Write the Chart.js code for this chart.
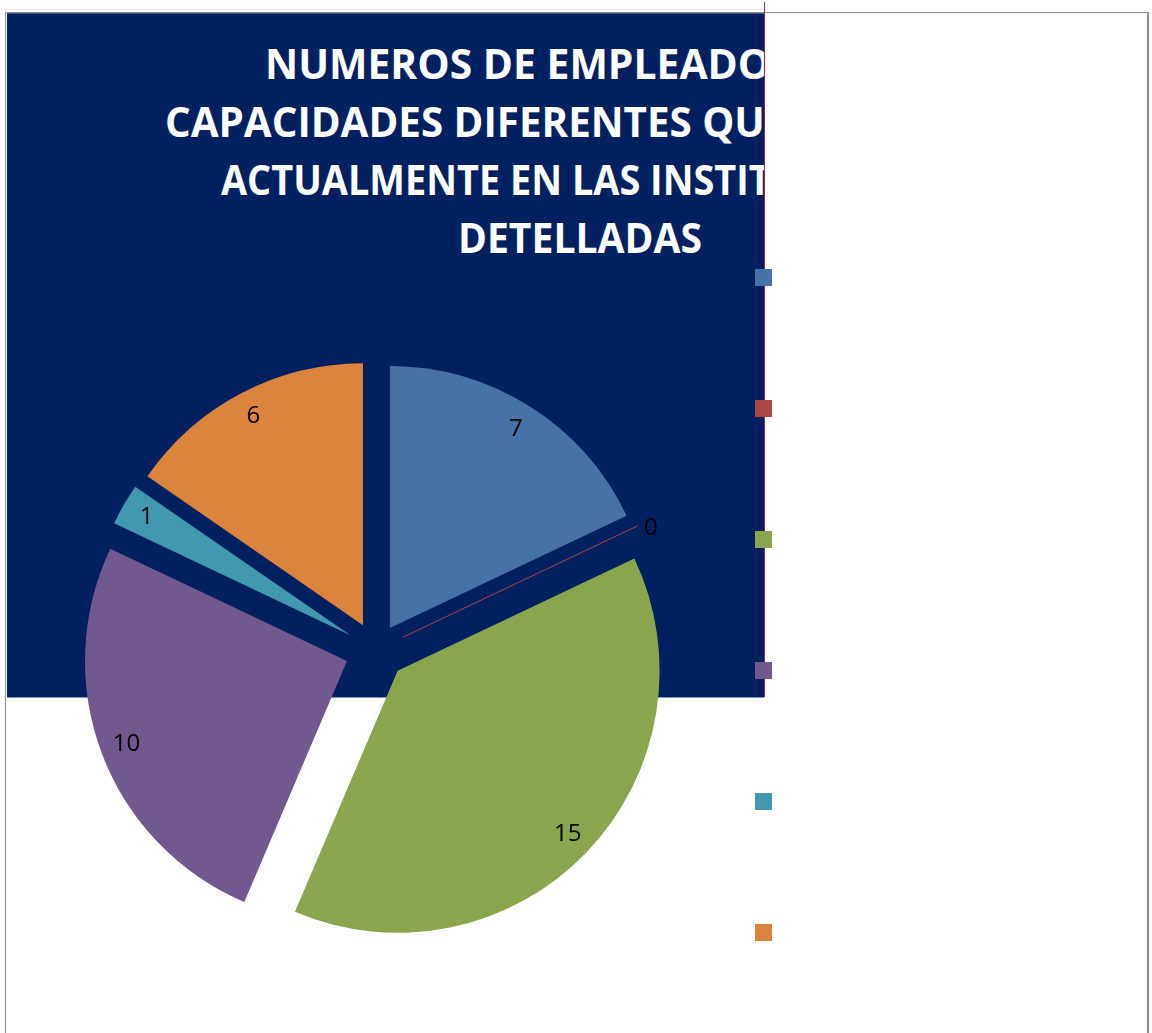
<!DOCTYPE html>
<html>
<head>
<meta charset="utf-8">
<script src="https://cdn.jsdelivr.net/npm/chart.js@4.4.1/dist/chart.umd.min.js"></script>
<style>
  body { margin: 0; background: #fff; }
  #frame {
    position: absolute; left: 5px; top: 12px; width: 1141px; height: 1030px;
    border-top: 1px solid #8c8c8c; border-left: 1px solid #8c8c8c; border-right: 2px solid #8c8c8c;
  }
  #dots {
    position: absolute; left: 5px; top: 9px; width: 758px; height: 0;
    border-top: 1px dotted #d6d6e6;
  }
  #panel {
    position: absolute; left: 7px; top: 13px; width: 757px; height: 683px;
    background: #002060; overflow: hidden;
    border-top: 1px solid #3a4f86; border-bottom: 1px solid #8593b5;
  }
  #redline {
    position: absolute; left: 764px; top: 2px; width: 1px; height: 695px;
    background: #a8203c;
  }
  #title {
    position: absolute; left: 73px; top: 20px; width: 1000px;
    text-align: center; color: #fff;
    font-family: "Open Sans", sans-serif; font-weight: bold;
    font-size: 42px; line-height: 58px;
  }
  #title div { transform-origin: 500px 0; white-space: nowrap; }
  #chart { position: absolute; left: 0; top: 0; }
</style>
</head>
<body>
<div id="frame"></div>
<div id="dots"></div>
<div id="panel">
  <div id="title">
    <div>NUMEROS DE EMPLEADOS CON</div>
    <div>CAPACIDADES DIFERENTES QUE LABORAN</div>
    <div>ACTUALMENTE EN LAS INSTITUCIONES</div>
    <div>DETELLADAS</div>
  </div>
</div>
<div id="redline"></div>
<canvas id="chart" width="1152" height="1033"></canvas>
<script>
// data
const categories = ['1', '2', '3', '4', '5', '6'];
const values = [7, 0, 15, 10, 1, 6];
const colors = ['#4672A7', '#AA4643', '#89A54E', '#71588F', '#4198AF', '#DB843D'];

// how far each slice is pulled out (px)
const explode = [26, 30, 30, 31, 29, 28];

// widths the title lines take in the original (px)
const titleWidths = [630, 830, 718, 244];

function fitTitle() {
  const c = document.createElement('canvas').getContext('2d');
  c.font = 'bold 42px "Open Sans"';
  const lines = document.querySelectorAll('#title div');
  lines.forEach((el, i) => {
    const w = c.measureText(el.textContent).width;
    el.style.transform = 'scaleX(' + (titleWidths[i] / w) + ')';
  });
}

const explodePlugin = {
  id: 'explode',
  beforeDatasetDraw(chart, args) {
    const ctx = chart.ctx;
    args.meta.data.forEach((arc, i) => {
      const mid = (arc.startAngle + arc.endAngle) / 2;
      const d = explode[i];
      ctx.save();
      ctx.translate(Math.cos(mid) * d, Math.sin(mid) * d);
      arc.draw(ctx);
      ctx.restore();
    });
    return false;
  }
};

const labelPlugin = {
  id: 'sliceLabels',
  afterDatasetsDraw(chart) {
    const ctx = chart.ctx;
    const meta = chart.getDatasetMeta(0);
    const ds = chart.data.datasets[0];
    ctx.save();
    ctx.font = '24px "Open Sans", sans-serif';
    ctx.fillStyle = '#000';
    meta.data.forEach((arc, i) => {
      const mid = (arc.startAngle + arc.endAngle) / 2;
      const cx = arc.x, cy = arc.y, r = arc.outerRadius;
      const dx = Math.cos(mid), dy = Math.sin(mid);
      const d = explode[i];
      if (arc.endAngle - arc.startAngle === 0) {
        // empty slice: thin line plus a label outside
        const ex = cx + dx * (r + 28), ey = cy + dy * (r + 28);
        ctx.strokeStyle = ds.backgroundColor[i];
        ctx.lineWidth = 1;
        ctx.beginPath();
        ctx.moveTo(cx + dx * d, cy + dy * d);
        ctx.lineTo(ex, ey);
        ctx.stroke();
        ctx.textAlign = 'left';
        ctx.textBaseline = 'middle';
        ctx.fillText(String(ds.data[i]), ex + 6, ey + 2);
      } else {
        const lx = cx + dx * d + dx * r * 0.9;
        const ly = cy + dy * d + dy * r * 0.9;
        ctx.textAlign = 'center';
        ctx.textBaseline = 'middle';
        ctx.fillText(String(ds.data[i]), lx, ly);
      }
    });
    ctx.restore();
  }
};

const legendPlugin = {
  id: 'squares',
  afterDraw(chart) {
    const ctx = chart.ctx;
    const ds = chart.data.datasets[0];
    ds.backgroundColor.forEach((col, i) => {
      ctx.fillStyle = col;
      ctx.fillRect(755, 269 + i * 131, 17, 17);
    });
  }
};

document.addEventListener('DOMContentLoaded', function() {
  fitTitle();
  const ctx = document.getElementById('chart').getContext('2d');
  new Chart(ctx, {
    type: 'pie',
    data: {
      labels: categories,
      datasets: [{
        data: values,
        backgroundColor: colors,
        borderWidth: 0
      }]
    },
    options: {
      responsive: false,
      animation: false,
      radius: 262,
      layout: { padding: { left: 0, right: 400, top: 267, bottom: 0 } },
      plugins: {
        legend: { display: false },
        tooltip: { enabled: false },
        title: { display: false }
      },
      events: []
    },
    plugins: [explodePlugin, labelPlugin, legendPlugin]
  });
});
</script>
</body>
</html>
